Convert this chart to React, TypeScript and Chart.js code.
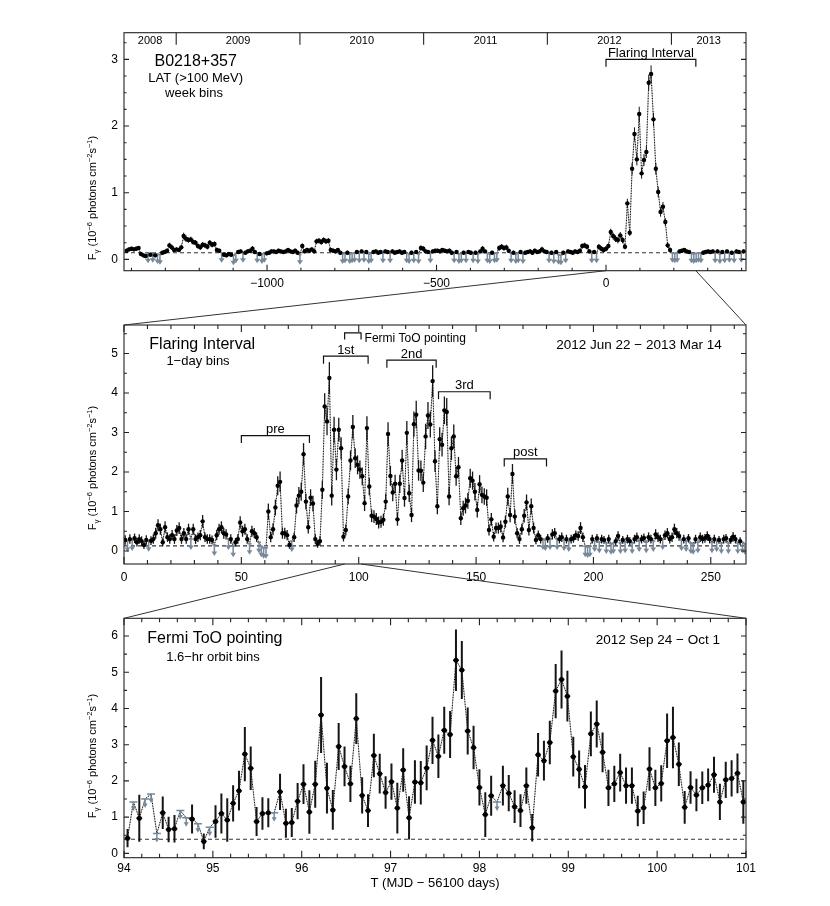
import React, { useEffect, useRef } from "react";
import { Chart, registerables } from "chart.js";

Chart.register(...registerables);

const FONT = '"Liberation Sans", Arial, Helvetica, sans-serif';
const UL_COLOR = "#76889a";

// ---------------- Panel 1: weekly bins (days from MJD 56100) ----------------
const p1BinStart = -1414;
const p1BinWidth = 7;
const p1Flux = [
  0.13, 0.15, 0.16, 0.15, 0.16, 0.17, 0.08, 0.06, 0.05, 0.09,
  0.07, 0.10, 0.06, 0.08, 0.07, 0.10, 0.11, 0.13, 0.21, 0.18,
  0.14, 0.15, 0.14, 0.18, 0.35, 0.31, 0.29, 0.30, 0.26, 0.25,
  0.20, 0.18, 0.22, 0.21, 0.19, 0.25, 0.22, 0.23, 0.14, 0.13,
  0.10, 0.07, 0.06, 0.08, 0.07, 0.06, 0.09, 0.11, 0.12, 0.10,
  0.10, 0.12, 0.13, 0.16, 0.11, 0.09, 0.08, 0.08, 0.10, 0.09,
  0.10, 0.12, 0.12, 0.11, 0.13, 0.12, 0.11, 0.12, 0.14, 0.12,
  0.11, 0.13, 0.10, 0.07, 0.20, 0.12, 0.14, 0.13, 0.15, 0.12,
  0.27, 0.28, 0.26, 0.29, 0.27, 0.28, 0.14, 0.13, 0.12, 0.14,
  0.10, 0.08, 0.09, 0.10, 0.08, 0.09, 0.10, 0.11, 0.09, 0.12,
  0.10, 0.11, 0.08, 0.09, 0.11, 0.12, 0.10, 0.11, 0.09, 0.12,
  0.11, 0.09, 0.12, 0.10, 0.11, 0.12, 0.10, 0.11, 0.09, 0.08,
  0.10, 0.09, 0.11, 0.08, 0.17, 0.16, 0.12, 0.11, 0.09, 0.12,
  0.13, 0.13, 0.12, 0.14, 0.13, 0.12, 0.13, 0.10, 0.09, 0.11,
  0.08, 0.09, 0.10, 0.09, 0.11, 0.10, 0.09, 0.10, 0.08, 0.12,
  0.16, 0.12, 0.09, 0.08, 0.10, 0.09, 0.10, 0.17, 0.19, 0.17,
  0.18, 0.13, 0.09, 0.10, 0.08, 0.09, 0.11, 0.08, 0.10, 0.11,
  0.12, 0.10, 0.13, 0.11, 0.12, 0.15, 0.12, 0.11, 0.09, 0.10,
  0.08, 0.11, 0.07, 0.06, 0.10, 0.09, 0.12, 0.11, 0.10, 0.12,
  0.11, 0.13, 0.20, 0.21, 0.19, 0.12, 0.09, 0.11, 0.09, 0.19,
  0.16, 0.14, 0.16, 0.20, 0.41, 0.35, 0.31, 0.29, 0.36, 0.29,
  0.19, 0.84, 0.40, 1.36, 1.88, 1.50, 2.18, 1.29, 1.49, 1.61,
  2.65, 2.78, 2.10, 1.36, 1.01, 0.71, 0.79, 0.56, 0.21, 0.14,
  0.10, 0.09, 0.10, 0.12, 0.13, 0.14, 0.12, 0.11, 0.09, 0.08,
  0.09, 0.10, 0.09, 0.10, 0.11, 0.12, 0.11, 0.12, 0.09, 0.12,
  0.08, 0.11, 0.09, 0.12, 0.10, 0.10, 0.09, 0.12, 0.11, 0.10,
  0.12,
];
const p1Err = [
  0.03, 0.03, 0.03, 0.03, 0.03, 0.03, 0.03, 0.03, 0.03, 0,
  0.03, 0, 0.03, 0, 0, 0.03, 0.03, 0.03, 0.04, 0.04,
  0.03, 0.03, 0.03, 0.04, 0.05, 0.05, 0.04, 0.04, 0.04, 0.04,
  0.04, 0.04, 0.04, 0.04, 0.04, 0.04, 0.04, 0.04, 0.03, 0.03,
  0, 0.03, 0.03, 0.03, 0.03, 0, 0, 0.03, 0.03, 0,
  0.03, 0.03, 0.03, 0.04, 0.03, 0, 0.03, 0, 0, 0.03,
  0.03, 0.03, 0.03, 0.03, 0.03, 0.03, 0.03, 0.03, 0.03, 0.03,
  0.03, 0.03, 0.03, 0, 0.04, 0.03, 0.03, 0.03, 0.03, 0.03,
  0.04, 0.04, 0.04, 0.04, 0.04, 0.04, 0.03, 0.03, 0.03, 0.03,
  0.03, 0, 0, 0.03, 0, 0, 0, 0.03, 0, 0.03,
  0, 0.03, 0, 0, 0.03, 0.03, 0.03, 0.03, 0, 0.03,
  0.03, 0, 0.03, 0.03, 0.03, 0.03, 0.03, 0.03, 0, 0,
  0.03, 0, 0.03, 0, 0.04, 0.04, 0.03, 0.03, 0, 0.03,
  0.03, 0.03, 0.03, 0.03, 0.03, 0.03, 0.03, 0.03, 0, 0.03,
  0, 0, 0.03, 0, 0.03, 0.03, 0, 0.03, 0, 0.03,
  0.04, 0.03, 0, 0, 0.03, 0, 0, 0.04, 0.04, 0.04,
  0.04, 0.03, 0, 0.03, 0, 0, 0.03, 0, 0.03, 0.03,
  0.03, 0.03, 0.03, 0.03, 0.03, 0.04, 0.03, 0.03, 0, 0.03,
  0, 0.03, 0, 0, 0.03, 0, 0.03, 0.03, 0.03, 0.03,
  0.03, 0.03, 0.04, 0.04, 0.04, 0.03, 0, 0.03, 0, 0.04,
  0.04, 0.04, 0.04, 0.04, 0.05, 0.05, 0.05, 0.05, 0.05, 0.05,
  0.04, 0.07, 0.05, 0.09, 0.10, 0.09, 0.11, 0.08, 0.09, 0.09,
  0.12, 0.13, 0.10, 0.09, 0.08, 0.07, 0.07, 0.06, 0.04, 0.04,
  0, 0, 0, 0.03, 0.03, 0.03, 0.03, 0.03, 0, 0,
  0, 0, 0, 0.03, 0.03, 0.03, 0.03, 0.03, 0, 0.03,
  0, 0.03, 0, 0.03, 0, 0.03, 0, 0.03, 0.03, 0,
  0.03,
];
const p1UpperLimits = [
  9, 11, 13, 14, 40, 45, 46, 49, 55, 57, 58, 73, 91, 92, 94, 95, 96, 98, 100,
  102, 103, 108, 111, 118, 119, 121, 123, 128, 138, 140, 141, 143, 146, 148,
  152, 153, 155, 156, 162, 164, 165, 167, 178, 180, 182, 183, 185, 196, 198,
  230, 231, 232, 238, 239, 240, 241, 242, 248, 250, 252, 254, 256, 259,
];
const p1XTicks = [-1000, -500, 0];
const p1YTicks = [0, 1, 2, 3];
const yearEdges = [-1268, -903, -538, -173, 193];
const yearLabels = ["2008", "2009", "2010", "2011", "2012", "2013"];
const flareRange = [0, 265];

// ---------------- Panel 2: 1-day bins ----------------
const p2BinStart = 0.5;
const p2BinWidth = 1;
const p2Flux = [
  0.28, 0.25, 0.30, 0.28, 0.32, 0.22, 0.30, 0.25, 0.15, 0.28,
  0.26, 0.26, 0.30, 0.45, 0.65, 0.55, 0.22, 0.60, 0.35, 0.30,
  0.40, 0.30, 0.52, 0.58, 0.30, 0.45, 0.30, 0.55, 0.30, 0.55,
  0.30, 0.35, 0.40, 0.75, 0.35, 0.30, 0.30, 0.28, 0.15, 0.40,
  0.55, 0.60, 0.45, 0.42, 0.30, 0.30, 0.12, 0.22, 0.30, 0.72,
  0.50, 0.55, 0.30, 0.18, 0.50, 0.45, 0.35, 0.22, 0.12, 0.08,
  0.08, 1.00, 0.35, 0.55, 1.10, 1.65, 1.75, 0.45, 0.45, 0.40,
  0.15, 0.25, 0.35, 1.15, 1.40, 1.50, 2.45, 1.25, 0.60, 1.35,
  1.20, 0.30, 0.18, 0.25, 1.55, 3.66, 3.28, 4.38, 1.40, 3.07,
  2.06, 3.07, 2.60, 0.36, 0.53, 1.38, 2.29, 3.14, 2.35, 2.18,
  2.06, 1.89, 1.21, 3.11, 1.63, 0.89, 0.87, 0.81, 0.72, 0.74,
  0.79, 1.25, 2.96, 1.90, 1.48, 1.70, 0.80, 1.70, 2.29, 1.34,
  2.99, 1.46, 0.91, 3.21, 3.45, 2.04, 2.03, 1.73, 2.90, 3.43,
  3.20, 4.30, 2.27, 1.13, 2.83, 2.69, 3.56, 3.52, 1.38, 2.60,
  2.90, 1.89, 2.12, 0.83, 1.08, 1.15, 1.27, 1.84, 1.78, 1.50,
  1.04, 1.69, 1.42, 1.38, 1.35, 0.53, 0.80, 0.36, 0.58, 0.58,
  0.62, 0.34, 0.74, 1.38, 0.91, 1.95, 0.87, 0.45, 0.30, 0.55,
  0.89, 1.23, 0.53, 1.13, 0.58, 0.28, 0.40, 0.30, 0.30, 0.28,
  0.32, 0.30, 0.42, 0.45, 0.30, 0.30, 0.35, 0.28, 0.30, 0.25,
  0.30, 0.32, 0.40, 0.38, 0.58, 0.35, 0.12, 0.10, 0.12, 0.30,
  0.25, 0.32, 0.22, 0.30, 0.28, 0.20, 0.30, 0.18, 0.20, 0.25,
  0.38, 0.20, 0.28, 0.22, 0.30, 0.25, 0.20, 0.30, 0.35, 0.25,
  0.30, 0.33, 0.22, 0.35, 0.30, 0.25, 0.42, 0.35, 0.30, 0.30,
  0.40, 0.45, 0.30, 0.35, 0.55, 0.45, 0.38, 0.28, 0.30, 0.25,
  0.32, 0.20, 0.18, 0.30, 0.22, 0.35, 0.30, 0.32, 0.38, 0.30,
  0.22, 0.30, 0.25, 0.28, 0.20, 0.30, 0.32, 0.20, 0.28, 0.36,
  0.30, 0.20, 0.25, 0.22, 0.18,
];
const p2Err = [
  0.12, 0, 0.12, 0, 0.12, 0.11, 0.12, 0.12, 0.10, 0.12,
  0, 0.11, 0.12, 0.14, 0.15, 0.14, 0.10, 0.15, 0.12, 0.12,
  0.13, 0.12, 0.14, 0.15, 0.12, 0.13, 0.12, 0.14, 0, 0.14,
  0.12, 0.12, 0.13, 0.16, 0.12, 0.12, 0.12, 0.11, 0, 0.13,
  0.14, 0.15, 0.14, 0.13, 0, 0.12, 0, 0.11, 0.12, 0.16,
  0.14, 0.14, 0.12, 0, 0.14, 0.13, 0.12, 0, 0, 0,
  0, 0.20, 0.13, 0.15, 0.20, 0.24, 0.26, 0.14, 0.14, 0.13,
  0.10, 0, 0.12, 0.20, 0.22, 0.23, 0.28, 0.20, 0.16, 0.21,
  0.20, 0.12, 0.10, 0.12, 0.23, 0.33, 0.35, 0.40, 0.25, 0.33,
  0.27, 0.30, 0.28, 0.12, 0.14, 0.20, 0.25, 0.30, 0.25, 0.24,
  0.23, 0.22, 0.20, 0.30, 0.22, 0.16, 0.16, 0.15, 0.15, 0.15,
  0.15, 0.20, 0.30, 0.25, 0.22, 0.23, 0.16, 0.23, 0.27, 0.22,
  0.30, 0.22, 0.18, 0.32, 0.35, 0.26, 0.26, 0.24, 0.32, 0.34,
  0.33, 0.40, 0.27, 0.20, 0.30, 0.30, 0.35, 0.35, 0.22, 0.30,
  0.30, 0.24, 0.26, 0.17, 0.19, 0.20, 0.20, 0.24, 0.23, 0.22,
  0.19, 0.23, 0.21, 0.21, 0.21, 0.14, 0.16, 0.12, 0.14, 0.14,
  0.15, 0.12, 0.15, 0.22, 0.18, 0.25, 0.18, 0.13, 0.12, 0.14,
  0.17, 0.20, 0.14, 0.20, 0.14, 0.11, 0.12, 0.11, 0, 0,
  0.11, 0, 0.13, 0.13, 0, 0.11, 0.12, 0, 0.11, 0,
  0.11, 0.11, 0.12, 0.12, 0.15, 0.12, 0, 0, 0, 0.11,
  0, 0.11, 0, 0.11, 0.10, 0, 0.11, 0, 0, 0.10,
  0.12, 0, 0.10, 0, 0.11, 0.10, 0, 0.11, 0.12, 0,
  0.11, 0.11, 0, 0.12, 0.11, 0, 0.13, 0.12, 0.11, 0,
  0.12, 0.13, 0.11, 0.12, 0.14, 0.13, 0.12, 0, 0.11, 0,
  0.11, 0, 0, 0.11, 0, 0.12, 0.11, 0.11, 0.12, 0.11,
  0, 0.11, 0, 0.10, 0, 0.11, 0.11, 0, 0.10, 0.12,
  0.11, 0, 0.10, 0, 0,
];
const p2UpperLimits = [
  1, 3, 10, 28, 38, 44, 46, 53, 57, 58, 59, 60, 71, 178, 179, 181, 184, 187,
  189, 196, 197, 198, 200, 202, 205, 207, 208, 211, 213, 216, 219, 222, 225,
  229, 237, 239, 241, 242, 244, 250, 252, 254, 257, 261, 263, 264,
];
const p2XTicks = [0, 50, 100, 150, 200, 250];
const p2YTicks = [0, 1, 2, 3, 4, 5];
const tooRange = [94, 101];

// ---------------- Panel 3: 1.6-hr orbit bins ----------------
const p3BinStart = 94.04;
const p3BinWidth = 0.066;
const p3Flux = [
  0.42, 1.42, 0.97, 1.50, 1.64, 0.55, 1.12, 0.66, 0.68, 1.18,
  0.98, 0.95, 0.82, 0.33, 0.72, 0.88, 1.10, 0.92, 1.38, 1.73,
  2.74, 2.35, 0.88, 1.10, 1.12, 1.12, 1.70, 0.83, 0.85, 1.44,
  1.91, 1.14, 1.91, 3.82, 1.80, 1.20, 2.95, 2.40, 1.92, 3.72,
  1.60, 1.18, 2.70, 2.20, 1.68, 1.98, 1.25, 2.30, 0.98, 1.97,
  1.95, 2.36, 3.12, 2.68, 3.40, 3.28, 5.33, 5.06, 3.38, 2.92,
  1.82, 1.07, 1.59, 1.42, 1.87, 1.66, 1.29, 1.18, 1.87, 0.71,
  2.72, 2.56, 3.06, 4.48, 4.80, 4.34, 2.67, 2.32, 1.84, 3.30,
  3.57, 2.79, 1.81, 1.92, 2.23, 1.87, 1.87, 1.17, 1.26, 2.33,
  1.81, 1.93, 3.11, 3.20, 2.46, 1.27, 1.82, 1.61, 1.81, 1.89,
  2.17, 1.42, 2.03, 2.07, 2.21, 1.42,
];
const p3Err = [
  0.25, 0, 0.65, 0, 0, 0, 0.45, 0.35, 0.38, 0,
  0, 0.40, 0, 0.22, 0, 0.45, 0.55, 0.60, 0.50, 0.55,
  0.75, 0.60, 0.40, 0.45, 0.40, 0, 0.50, 0.40, 0.40, 0.50,
  0.55, 0.60, 0.65, 1.05, 0.70, 0.55, 0.65, 0.55, 0.50, 0.70,
  0.50, 0.45, 0.60, 0.55, 0.45, 0.50, 0.70, 0.60, 0.60, 0.60,
  0.60, 0.62, 0.65, 0.60, 0.65, 0.65, 0.85, 0.80, 0.65, 0.60,
  0.50, 0.62, 0.55, 0, 0.55, 0.50, 0.45, 0.45, 0.50, 0.38,
  0.60, 0.55, 0.60, 0.75, 0.80, 0.70, 0.55, 0.52, 0.60, 0.62,
  0.65, 0.55, 0.50, 0.50, 0.52, 0.50, 0.50, 0.42, 0.45, 0.60,
  0.50, 0.50, 0.75, 0.85, 0.60, 0.45, 0.45, 0.45, 0.45, 0.45,
  0.50, 0.50, 0.50, 0.50, 0.55, 0.60,
];
const p3UpperLimits = [1, 3, 4, 5, 9, 10, 12, 14, 25, 63];
const p3XTicks = [94, 95, 96, 97, 98, 99, 100, 101];
const p3YTicks = [0, 1, 2, 3, 4, 5, 6];

// ---------------- helpers ----------------
const steps = (a: number, b: number, s: number, skip: number[]) => {
  const out: number[] = [];
  for (let v = a; v <= b + 1e-9; v += s) {
    const r = Math.round(v * 1000) / 1000;
    if (!skip.some((k) => Math.abs(k - r) < 1e-6)) out.push(r);
  }
  return out;
};
const binCentres = (start: number, width: number, n: number) =>
  Array.from({ length: n }, (_, i) => Math.round((start + i * width) * 10000) / 10000);
const fmt = (v: number) => (v < 0 ? "\u2212" + Math.abs(v) : String(v));

type Bracket = { label: string; from: number; to: number; level: number; side?: "top" | "right"; size?: number };
type TextItem = { t: string; x: number; y: number; size: number; align: CanvasTextAlign };

interface PanelDef {
  top: number;
  height: number;
  areaTop: number;
  areaBottom: number;
  xMin: number; xMax: number; yMin: number; yMax: number;
  xMajor: number[]; xMinor: number[]; yMajor: number[]; yMinor: number[];
  xMajorLen: number; xMinorLen: number; yMajorLen: number; yMinorLen: number;
  topTicks: boolean;
  xLabelPad: number;
  xs: number[]; flux: number[]; err: number[]; ul: number[];
  halfBin: number; markerR: number; errWidth: number; arrowLen: number; capHalf: number; headHalf: number;
  dash: number;
  brackets: Bracket[]; bracketTick: number;
  texts: TextItem[];
  yTitleY: number;
  years?: boolean;
}

const W = 814;
const AREA_LEFT = 116;
const AREA_RIGHT_PAD = 76;

const PANELS: PanelDef[] = [
  {
    top: 0, height: 292, areaTop: 24.7, areaBottom: 262.7,
    xMin: -1422, xMax: 413, yMin: -0.17, yMax: 3.4,
    xMajor: p1XTicks, xMinor: steps(-1400, 400, 100, p1XTicks),
    yMajor: p1YTicks, yMinor: steps(0, 3.25, 0.25, p1YTicks),
    xMajorLen: 6, xMinorLen: 3, yMajorLen: 5, yMinorLen: 2.5,
    topTicks: false, xLabelPad: 6,
    xs: binCentres(p1BinStart, p1BinWidth, p1Flux.length), flux: p1Flux, err: p1Err, ul: p1UpperLimits,
    halfBin: p1BinWidth / 2, markerR: 2.2, errWidth: 1, arrowLen: 10, capHalf: 1.5, headHalf: 3,
    dash: 0.1,
    brackets: [{ label: "Flaring Interval", from: flareRange[0], to: flareRange[1], level: 3.0, size: 13 }],
    bracketTick: 7.5,
    texts: [
      { t: "B0218+357", x: 187.7, y: 53.7, size: 16, align: "center" },
      { t: "LAT (>100 MeV)", x: 187.7, y: 70.5, size: 13, align: "center" },
      { t: "week bins", x: 186, y: 85, size: 13, align: "center" },
    ],
    yTitleY: 190,
    years: true,
  },
  {
    top: 292, height: 290, areaTop: 25, areaBottom: 264,
    xMin: 0, xMax: 265, yMin: -0.33, yMax: 5.72,
    xMajor: p2XTicks, xMinor: steps(0, 260, 10, p2XTicks),
    yMajor: p2YTicks, yMinor: steps(0.5, 5.5, 1, []),
    xMajorLen: 7, xMinorLen: 4, yMajorLen: 5, yMinorLen: 3,
    topTicks: true, xLabelPad: 6,
    xs: binCentres(p2BinStart, p2BinWidth, p2Flux.length), flux: p2Flux, err: p2Err, ul: p2UpperLimits,
    halfBin: p2BinWidth / 2, markerR: 2.2, errWidth: 1.3, arrowLen: 11, capHalf: 2, headHalf: 2.8,
    dash: 0.13,
    brackets: [
      { label: "pre", from: 50, to: 79, level: 2.92 },
      { label: "1st", from: 85, to: 104, level: 4.93 },
      { label: "2nd", from: 112, to: 133, level: 4.83 },
      { label: "3rd", from: 134, to: 156, level: 4.03 },
      { label: "post", from: 162, to: 180, level: 2.33 },
      { label: "Fermi ToO pointing", from: tooRange[0], to: tooRange[1], level: 5.52, side: "right", size: 12 },
    ],
    bracketTick: 7.5,
    texts: [
      { t: "Flaring Interval", x: 141.3, y: 45, size: 16, align: "left" },
      { t: "1\u2212day bins", x: 190, y: 61.7, size: 13, align: "center" },
      { t: "2012 Jun 22 \u2212 2013 Mar 14", x: 713.7, y: 45, size: 13.5, align: "right" },
    ],
    yTitleY: 168,
  },
  {
    top: 582, height: 308, areaTop: 28.3, areaBottom: 267.7,
    xMin: 94, xMax: 101, yMin: -0.12, yMax: 6.49,
    xMajor: p3XTicks, xMinor: steps(94, 101, 0.2, p3XTicks),
    yMajor: p3YTicks, yMinor: steps(0.5, 6, 1, []),
    xMajorLen: 7, xMinorLen: 4, yMajorLen: 5, yMinorLen: 3,
    topTicks: true, xLabelPad: 4,
    xs: binCentres(p3BinStart, p3BinWidth, p3Flux.length), flux: p3Flux, err: p3Err, ul: p3UpperLimits,
    halfBin: p3BinWidth / 2, markerR: 2.5, errWidth: 2, arrowLen: 9, capHalf: 4, headHalf: 2.5,
    dash: 0.39,
    brackets: [],
    bracketTick: 7,
    texts: [
      { t: "Fermi ToO pointing", x: 139.3, y: 49, size: 16, align: "left" },
      { t: "1.6\u2212hr orbit bins", x: 205, y: 67.3, size: 13, align: "center" },
      { t: "2012 Sep 24 \u2212 Oct 1", x: 712, y: 50, size: 13.5, align: "right" },
      { t: "T (MJD \u2212 56100 days)", x: 427, y: 293.3, size: 13, align: "center" },
    ],
    yTitleY: 166,
  },
];

function drawYTitle(ctx: CanvasRenderingContext2D, cx: number, cy: number) {
  const parts = [
    { t: "F", s: 11, dy: 0 },
    { t: "\u03b3", s: 8, dy: 3 },
    { t: " (10", s: 11, dy: 0 },
    { t: "\u22126", s: 7.5, dy: -4.5 },
    { t: " photons cm", s: 11, dy: 0 },
    { t: "\u22122", s: 7.5, dy: -4.5 },
    { t: "s", s: 11, dy: 0 },
    { t: "\u22121", s: 7.5, dy: -4.5 },
    { t: ")", s: 11, dy: 0 },
  ];
  ctx.save();
  ctx.translate(cx, cy);
  ctx.rotate(-Math.PI / 2);
  ctx.fillStyle = "#000";
  ctx.textBaseline = "alphabetic";
  ctx.textAlign = "left";
  let total = 0;
  for (const p of parts) {
    ctx.font = `${p.s}px ${FONT}`;
    total += ctx.measureText(p.t).width;
  }
  let x = -total / 2;
  for (const p of parts) {
    ctx.font = `${p.s}px ${FONT}`;
    ctx.fillText(p.t, x, 4 + p.dy);
    x += ctx.measureText(p.t).width;
  }
  ctx.restore();
}

function decorPlugin(def: PanelDef) {
  const ulSet = new Set(def.ul);
  return {
    id: "panelDecor",
    beforeDatasetDraw(chart: any, args: any) {
      if (args.index !== 0) return;
      const { ctx, chartArea, scales } = chart;
      const { x, y } = scales;
      ctx.save();
      ctx.beginPath();
      ctx.rect(chartArea.left, chartArea.top, chartArea.right - chartArea.left, chartArea.bottom - chartArea.top);
      ctx.clip();
      for (let i = 0; i < def.flux.length; i++) {
        const px = x.getPixelForValue(def.xs[i]);
        const py = y.getPixelForValue(def.flux[i]);
        if (ulSet.has(i)) {
          ctx.strokeStyle = UL_COLOR;
          ctx.fillStyle = UL_COLOR;
          ctx.lineWidth = 1.5;
          ctx.beginPath();
          ctx.moveTo(px - def.capHalf, py);
          ctx.lineTo(px + def.capHalf, py);
          ctx.moveTo(px, py);
          ctx.lineTo(px, py + def.arrowLen - 3);
          ctx.stroke();
          ctx.beginPath();
          ctx.moveTo(px - def.headHalf, py + def.arrowLen - 4.5);
          ctx.lineTo(px + def.headHalf, py + def.arrowLen - 4.5);
          ctx.lineTo(px, py + def.arrowLen);
          ctx.closePath();
          ctx.fill();
        } else {
          const e = def.err[i];
          ctx.strokeStyle = "#151515";
          ctx.lineWidth = def.errWidth;
          ctx.beginPath();
          ctx.moveTo(px, y.getPixelForValue(def.flux[i] - e));
          ctx.lineTo(px, y.getPixelForValue(def.flux[i] + e));
          ctx.stroke();
          ctx.lineWidth = 1.4;
          ctx.beginPath();
          ctx.moveTo(x.getPixelForValue(def.xs[i] - def.halfBin), py);
          ctx.lineTo(x.getPixelForValue(def.xs[i] + def.halfBin), py);
          ctx.stroke();
        }
      }
      ctx.restore();
    },
    afterDraw(chart: any) {
      const { ctx, chartArea, scales } = chart;
      const { x, y } = scales;
      const { left, right, top, bottom } = chartArea;
      ctx.save();
      ctx.strokeStyle = "#222";
      ctx.lineWidth = 1.1;
      ctx.strokeRect(left, top, right - left, bottom - top);
      ctx.beginPath();
      const xt = (vals: number[], len: number) => {
        for (const v of vals) {
          const px = x.getPixelForValue(v);
          ctx.moveTo(px, bottom);
          ctx.lineTo(px, bottom - len);
          if (def.topTicks) {
            ctx.moveTo(px, top);
            ctx.lineTo(px, top + len);
          }
        }
      };
      const yt = (vals: number[], len: number) => {
        for (const v of vals) {
          const py = y.getPixelForValue(v);
          ctx.moveTo(left, py);
          ctx.lineTo(left + len, py);
          ctx.moveTo(right, py);
          ctx.lineTo(right - len, py);
        }
      };
      xt(def.xMajor, def.xMajorLen);
      xt(def.xMinor, def.xMinorLen);
      yt(def.yMajor, def.yMajorLen);
      yt(def.yMinor, def.yMinorLen);
      if (def.years) {
        for (const e of yearEdges) {
          const px = x.getPixelForValue(e);
          ctx.moveTo(px, top);
          ctx.lineTo(px, top + 12);
        }
      }
      ctx.stroke();

      ctx.fillStyle = "#000";
      if (def.years) {
        const edges = [def.xMin, ...yearEdges, def.xMax];
        ctx.font = `11px ${FONT}`;
        ctx.textAlign = "center";
        ctx.textBaseline = "middle";
        for (let i = 0; i < yearLabels.length; i++) {
          const mid = (edges[i] + edges[i + 1]) / 2;
          ctx.fillText(yearLabels[i], x.getPixelForValue(mid), top + 8);
        }
      }

      // brackets
      ctx.strokeStyle = "#111";
      ctx.lineWidth = 1.2;
      for (const b of def.brackets) {
        const x1 = x.getPixelForValue(b.from);
        const x2 = x.getPixelForValue(b.to);
        const by = y.getPixelForValue(b.level);
        const tk = b.side === "right" ? 6.5 : def.bracketTick;
        ctx.beginPath();
        ctx.moveTo(x1, by + tk);
        ctx.lineTo(x1, by);
        ctx.lineTo(x2, by);
        ctx.lineTo(x2, by + tk);
        ctx.stroke();
        ctx.font = `${b.size ?? 13}px ${FONT}`;
        if (b.side === "right") {
          ctx.textAlign = "left";
          ctx.textBaseline = "middle";
          ctx.fillText(b.label, x2 + 3.5, by + 5.5);
        } else {
          ctx.textAlign = "center";
          ctx.textBaseline = "alphabetic";
          ctx.fillText(b.label, (x1 + x2) / 2, by - 2.5);
        }
      }

      for (const t of def.texts) {
        ctx.font = `${t.size}px ${FONT}`;
        ctx.textAlign = t.align;
        ctx.textBaseline = "middle";
        ctx.fillText(t.t, t.x, t.y);
      }
      ctx.restore();
      drawYTitle(ctx, 84, def.yTitleY);
    },
  };
}

function makeChart(canvas: HTMLCanvasElement, def: PanelDef) {
  const pts = def.xs.map((xv, i) => ({ x: xv, y: def.flux[i] }));
  const ulSet = new Set(def.ul);
  const det = pts.filter((_, i) => !ulSet.has(i));
  return new Chart(canvas, {
    type: "scatter",
    data: {
      datasets: [
        {
          type: "scatter",
          data: det,
          pointRadius: def.markerR,
          pointBackgroundColor: "#000",
          pointBorderWidth: 0,
          order: 0,
        } as any,
        {
          type: "line",
          data: pts,
          showLine: true,
          borderColor: "#000",
          borderWidth: 1,
          borderDash: [1, 1.6],
          pointRadius: 0,
          order: 1,
        } as any,
        {
          type: "line",
          data: pts,
          showLine: true,
          borderColor: "#a8a8a8",
          borderWidth: 1,
          pointRadius: 0,
          order: 2,
        } as any,
        {
          type: "line",
          data: [
            { x: def.xMin, y: def.dash },
            { x: def.xMax, y: def.dash },
          ],
          showLine: true,
          borderColor: "#333",
          borderWidth: 1.1,
          borderDash: [4, 3],
          pointRadius: 0,
          order: 3,
        } as any,
      ],
    },
    options: {
      animation: false,
      responsive: false,
      events: [],
      layout: { padding: { top: def.areaTop, right: AREA_RIGHT_PAD, left: 0, bottom: 0 } },
      plugins: { legend: { display: false }, tooltip: { enabled: false } },
      scales: {
        x: {
          type: "linear",
          position: "bottom",
          min: def.xMin,
          max: def.xMax,
          grid: { display: false, drawTicks: false },
          border: { display: false },
          ticks: {
            font: { family: FONT, size: 12 },
            color: "#000",
            padding: def.xLabelPad,
            maxRotation: 0,
            autoSkip: false,
            callback: (v: any) => fmt(Number(v)),
          },
          afterBuildTicks: (s: any) => {
            s.ticks = def.xMajor.map((v) => ({ value: v }));
          },
          afterFit: (s: any) => {
            s.height = def.height - def.areaBottom;
          },
        },
        y: {
          type: "linear",
          position: "left",
          min: def.yMin,
          max: def.yMax,
          grid: { display: false, drawTicks: false },
          border: { display: false },
          ticks: {
            font: { family: FONT, size: 12 },
            color: "#000",
            padding: 6,
            autoSkip: false,
            callback: (v: any) => fmt(Number(v)),
          },
          afterBuildTicks: (s: any) => {
            s.ticks = def.yMajor.map((v) => ({ value: v }));
          },
          afterFit: (s: any) => {
            s.width = AREA_LEFT;
          },
        },
      },
    } as any,
    plugins: [decorPlugin(def) as any],
  });
}

export default function App() {
  const r1 = useRef<HTMLCanvasElement>(null);
  const r2 = useRef<HTMLCanvasElement>(null);
  const r3 = useRef<HTMLCanvasElement>(null);
  const overlay = useRef<HTMLCanvasElement>(null);

  useEffect(() => {
    const refs = [r1, r2, r3];
    const charts = PANELS.map((def, i) => makeChart(refs[i].current!, def));
    const ov = overlay.current!;
    const ctx = ov.getContext("2d")!;
    ctx.clearRect(0, 0, ov.width, ov.height);
    ctx.strokeStyle = "#333";
    ctx.lineWidth = 1;
    const seg = (x1: number, y1: number, x2: number, y2: number) => {
      ctx.beginPath();
      ctx.moveTo(x1, y1);
      ctx.lineTo(x2, y2);
      ctx.stroke();
    };
    const [c1, c2, c3] = charts as any[];
    const b1 = PANELS[0].top + c1.chartArea.bottom;
    const t2 = PANELS[1].top + c2.chartArea.top;
    seg(c1.scales.x.getPixelForValue(flareRange[0]), b1, c2.chartArea.left, t2);
    seg(c1.scales.x.getPixelForValue(flareRange[1]), b1, c2.chartArea.right, t2);
    const b2 = PANELS[1].top + c2.chartArea.bottom;
    const t3 = PANELS[2].top + c3.chartArea.top;
    seg(c2.scales.x.getPixelForValue(tooRange[0]), b2, c3.chartArea.left, t3);
    seg(c2.scales.x.getPixelForValue(tooRange[1]), b2, c3.chartArea.right, t3);
    return () => charts.forEach((c) => c.destroy());
  }, []);

  return (
    <div style={{ position: "relative", width: W, height: 890 }}>
      {[r1, r2, r3].map((r, i) => (
        <canvas
          key={i}
          ref={r}
          width={W}
          height={PANELS[i].height}
          style={{ position: "absolute", left: 0, top: PANELS[i].top, width: W, height: PANELS[i].height }}
        />
      ))}
      <canvas
        ref={overlay}
        width={W}
        height={890}
        style={{ position: "absolute", left: 0, top: 0, width: W, height: 890, pointerEvents: "none" }}
      />
    </div>
  );
}
